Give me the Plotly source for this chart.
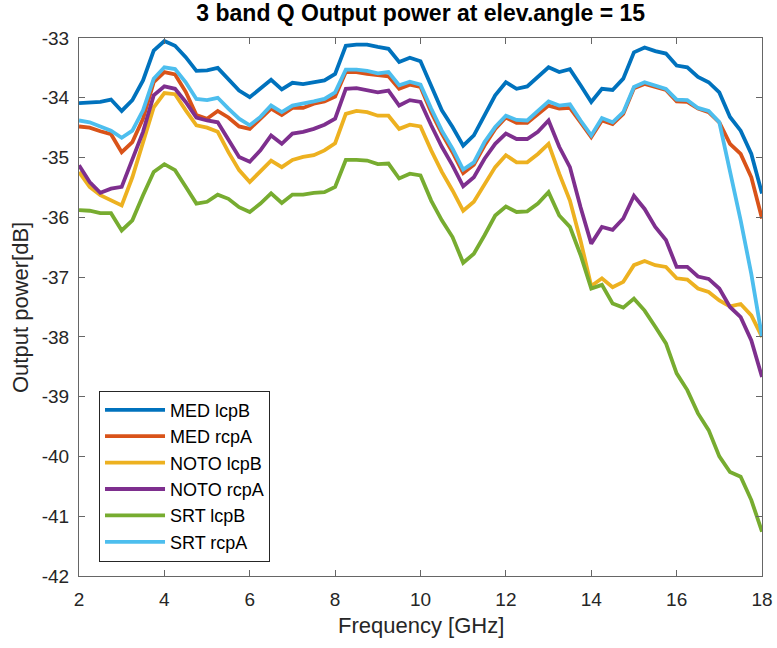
import numpy as np
import plotly.graph_objects as go

freq = [2 + 0.25 * i for i in range(65)]

med_lcpB = [-34.09, -34.08, -34.07, -34.03, -34.22, -34.04, -33.71, -33.21, -33.05, -33.13,
            -33.32, -33.55, -33.54, -33.50, -33.68, -33.88, -33.99, -33.85, -33.70, -33.86,
            -33.75, -33.77, -33.74, -33.71, -33.60, -33.13, -33.11, -33.11, -33.15, -33.18,
            -33.40, -33.33, -33.39, -33.82, -34.21, -34.49, -34.80, -34.63, -34.30, -33.96,
            -33.74, -33.85, -33.81, -33.65, -33.49, -33.57, -33.52, -33.79, -34.07, -33.85,
            -33.87, -33.68, -33.24, -33.16, -33.22, -33.26, -33.46, -33.49, -33.65, -33.74,
            -33.91, -34.32, -34.55, -34.94, -35.60]

med_rcpA = [-34.48, -34.50, -34.56, -34.61, -34.91, -34.74, -34.35, -33.74, -33.57, -33.61,
            -33.90, -34.29, -34.35, -34.22, -34.33, -34.48, -34.52, -34.35, -34.18, -34.29,
            -34.17, -34.17, -34.10, -34.06, -33.98, -33.57, -33.57, -33.60, -33.62, -33.64,
            -33.85, -33.78, -33.82, -34.24, -34.60, -34.91, -35.26, -35.12, -34.80, -34.52,
            -34.33, -34.42, -34.42, -34.27, -34.13, -34.18, -34.17, -34.41, -34.66, -34.38,
            -34.44, -34.27, -33.84, -33.77, -33.82, -33.87, -34.06, -34.07, -34.18, -34.24,
            -34.41, -34.77, -34.94, -35.33, -36.02]

noto_lcpB = [-35.24, -35.49, -35.63, -35.72, -35.80, -35.33, -34.77, -34.16, -33.92, -33.94,
             -34.21, -34.46, -34.50, -34.57, -34.91, -35.21, -35.41, -35.24, -35.05, -35.16,
             -35.04, -34.99, -34.96, -34.88, -34.76, -34.27, -34.22, -34.24, -34.30, -34.30,
             -34.52, -34.45, -34.48, -34.88, -35.24, -35.55, -35.89, -35.74, -35.44, -35.16,
             -34.96, -35.08, -35.08, -34.94, -34.77, -35.27, -35.72, -36.39, -37.15, -37.02,
             -37.17, -37.08, -36.80, -36.73, -36.80, -36.83, -37.02, -37.04, -37.19, -37.25,
             -37.39, -37.49, -37.45, -37.64, -38.00]

noto_rcpA = [-35.13, -35.41, -35.59, -35.52, -35.49, -35.05, -34.57, -33.96, -33.81, -33.85,
             -34.07, -34.33, -34.38, -34.41, -34.71, -34.99, -35.07, -34.88, -34.63, -34.77,
             -34.60, -34.57, -34.52, -34.45, -34.35, -33.85, -33.84, -33.87, -33.91, -33.88,
             -34.13, -34.04, -34.07, -34.46, -34.82, -35.13, -35.48, -35.33, -35.02, -34.77,
             -34.60, -34.69, -34.69, -34.57, -34.38, -34.82, -35.16, -35.83, -36.44, -36.16,
             -36.21, -36.02, -35.64, -35.86, -36.16, -36.38, -36.83, -36.83, -36.99, -37.03,
             -37.19, -37.50, -37.67, -38.06, -38.67]

srt_lcpB = [-35.88, -35.89, -35.93, -35.93, -36.22, -36.05, -35.63, -35.24, -35.11, -35.21,
            -35.49, -35.77, -35.74, -35.62, -35.69, -35.83, -35.91, -35.77, -35.60, -35.76,
            -35.62, -35.62, -35.59, -35.58, -35.49, -35.04, -35.04, -35.05, -35.11, -35.10,
            -35.35, -35.27, -35.30, -35.72, -36.05, -36.33, -36.76, -36.61, -36.30, -35.97,
            -35.82, -35.91, -35.90, -35.77, -35.58, -35.97, -36.16, -36.63, -37.19, -37.13,
            -37.44, -37.51, -37.36, -37.56, -37.83, -38.11, -38.61, -38.89, -39.28, -39.56,
            -40.00, -40.26, -40.34, -40.73, -41.26]

srt_rcpA = [-34.38, -34.41, -34.48, -34.55, -34.67, -34.55, -34.21, -33.68, -33.49, -33.52,
            -33.74, -34.02, -34.04, -34.00, -34.18, -34.35, -34.46, -34.32, -34.13, -34.24,
            -34.13, -34.10, -34.06, -34.02, -33.91, -33.53, -33.53, -33.55, -33.59, -33.57,
            -33.79, -33.73, -33.78, -34.18, -34.55, -34.85, -35.20, -35.08, -34.74, -34.49,
            -34.30, -34.37, -34.38, -34.22, -34.06, -34.13, -34.11, -34.38, -34.63, -34.34,
            -34.41, -34.24, -33.82, -33.74, -33.79, -33.85, -34.03, -34.04, -34.17, -34.22,
            -34.41, -35.20, -36.05, -36.95, -38.00]

names = ["MED lcpB", "MED rcpA", "NOTO lcpB", "NOTO rcpA", "SRT lcpB", "SRT rcpA"]
colors = ["#0072BD", "#D95319", "#EDB120", "#7E2F8E", "#77AC30", "#4DBEEE"]
series = [med_lcpB, med_rcpA, noto_lcpB, noto_rcpA, srt_lcpB, srt_rcpA]

x_ticks = [2, 4, 6, 8, 10, 12, 14, 16, 18]
y_ticks = [-42, -41, -40, -39, -38, -37, -36, -35, -34, -33]

FONT = "Liberation Sans, Arial, Helvetica, sans-serif"
TXT = "#262626"
AX = "#666666"

fig = go.Figure()
for n, c, s in zip(names, colors, series):
    fig.add_trace(go.Scatter(x=freq, y=s, name=n, mode="lines",
                             line=dict(color=c, width=3.8)))

fig.update_layout(
    width=777, height=648,
    margin=dict(l=79, r=15, t=38, b=72, autoexpand=False),
    paper_bgcolor="white", plot_bgcolor="white",
    font=dict(family=FONT, color=TXT, size=19),
    title=dict(text="<b>3 band Q Output power at elev.angle = 15</b>",
               x=0.5415, xanchor="center", y=0.98, yanchor="middle",
               font=dict(size=23, color="black", family=FONT)),
    legend=dict(x=0.0293, y=0.1857, xanchor="left", yanchor="middle",
                bgcolor="white", bordercolor="#262626", borderwidth=1,
                font=dict(size=18, color="black", family=FONT),
                tracegroupgap=0, itemwidth=60),
    showlegend=True,
    annotations=[
        dict(text="Frequency [GHz]", xref="paper", yref="paper", x=0.5, y=-0.0915,
             xanchor="center", yanchor="middle", showarrow=False,
             font=dict(size=22, color=TXT, family=FONT)),
        dict(text="Output power[dB]", xref="paper", yref="paper", x=-0.0864, y=0.5,
             xanchor="center", yanchor="middle", showarrow=False, textangle=-90,
             font=dict(size=22, color=TXT, family=FONT)),
    ],
)
fig.update_xaxes(range=[2, 18], tickvals=x_ticks, ticktext=[str(v) for v in x_ticks],
                 showgrid=False, zeroline=False, showline=True, linecolor=AX, linewidth=1,
                 mirror="ticks", ticks="inside", ticklen=6, tickcolor=AX,
                 ticklabelstandoff=6, automargin=False)
fig.update_yaxes(range=[-42, -33], tickvals=y_ticks, ticktext=[str(v) for v in y_ticks],
                 showgrid=False, zeroline=False, showline=True, linecolor=AX, linewidth=1,
                 mirror="ticks", ticks="inside", ticklen=6, tickcolor=AX,
                 ticklabelstandoff=5, automargin=False)

fig.write_html("out.html", config={"displayModeBar": False},
               post_script="document.body.style.margin='0';")
